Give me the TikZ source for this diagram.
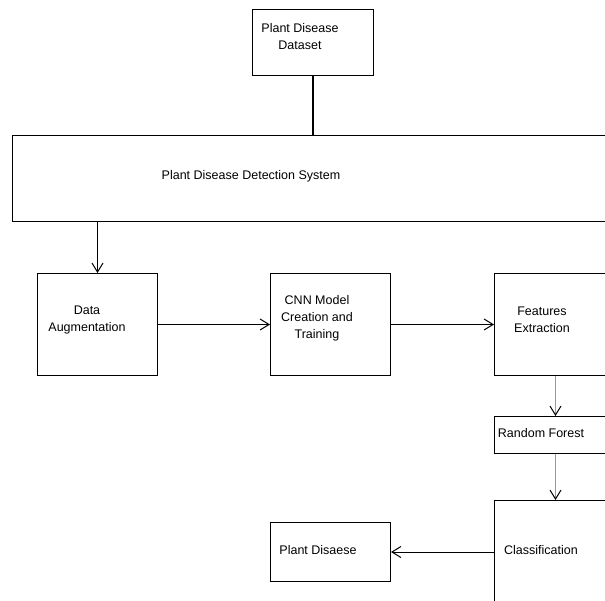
\documentclass[tikz,border=0pt]{standalone}
\usepackage{fontspec}
\setmainfont{Liberation Sans}
\usetikzlibrary{arrows.meta}

\begin{document}
\begin{tikzpicture}[x=1pt,y=-1pt,font=\fontsize{12.5}{17}\selectfont,
  barb/.style={-{Straight Barb[length=9pt,width=11pt,line width=1pt,color=black]}}]

    % `block' is used for every box, `boxtext' for the words in it.
    % `link' draws black connectors, `greylink' the grey ones.
    \tikzstyle{block} = [draw,line width=1pt,inner sep=0pt,anchor=north west]
    \tikzstyle{boxtext} = [align=center,inner sep=0pt]
    \tikzstyle{link} = [draw,line width=1pt,barb]
    \tikzstyle{greylink} = [draw=black!40,line width=1pt,barb]
    %
    \useasboundingbox (0,0) rectangle (605,600);
    \clip (0,0) rectangle (605,600);

    % Boxes.
    \node[block,minimum width=121pt,minimum height=66pt] (ds) at (252,9) {};
    \node[block,minimum width=608pt,minimum height=86pt] (sys) at (12,135) {};
    \node[block,minimum width=120pt,minimum height=102pt] (aug) at (37,273) {};
    \node[block,minimum width=120pt,minimum height=102pt] (cnn) at (270,273) {};
    \node[block,minimum width=122pt,minimum height=102pt] (feat) at (494,273) {};
    \node[block,minimum width=122pt,minimum height=37pt] (rf) at (494,416) {};
    \node[block,minimum width=122pt,minimum height=104pt] (cls) at (494,500) {};
    \node[block,minimum width=120pt,minimum height=59pt] (pd) at (270,522) {};

    % Texts.
    \node[boxtext] (dsT) at (300,37) {Plant Disease\\Dataset};
    \node[boxtext] (sysT) at (251,176) {Plant Disease Detection System};
    \node[boxtext] (augT) at (87,320) {Data\\Augmentation};
    \node[boxtext] (cnnT) at (317,318) {CNN Model\\Creation and\\Training};
    \node[boxtext] (featT) at (542,320) {Features\\Extraction};
    \node[boxtext] (rfT) at (541,433) {Random Forest};
    \node[boxtext] (clsT) at (541,550) {Classification};
    \node[boxtext] (pdT) at (318,550) {Plant Disaese};

    % Draw lines.
    \draw[line width=1.8pt] (ds.south) -- (ds.south |- sys.north);
    \draw[link] (aug.north |- sys.south) -- (aug.north);
    \draw[link] (aug.east) -- (cnn.west);
    \draw[link] (cnn.east) -- (feat.west);
    \draw[greylink] (feat.south) -- (rf.north);
    \draw[greylink] (rf.south) -- (cls.north);
    \draw[link] (pd.east -| cls.west) -- (pd.east);
    %
\end{tikzpicture}
\end{document}
